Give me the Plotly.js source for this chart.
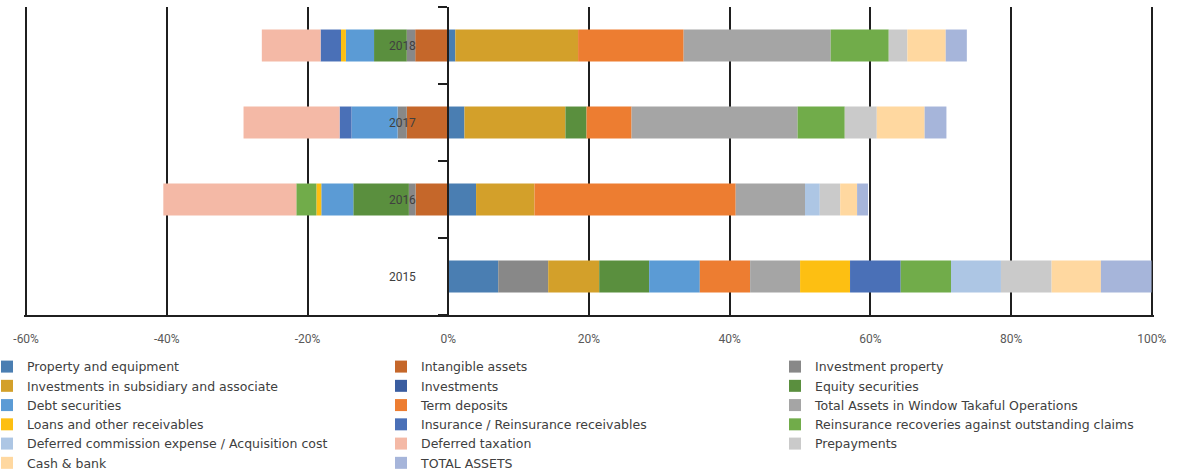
<!DOCTYPE html>
<html>
<head>
<meta charset="utf-8">
<script src="https://cdn.plot.ly/plotly-3.0.1.min.js"></script>
<style>html,body{margin:0;padding:0;background:#fff;}#chart{width:1179px;height:472px;}</style>
</head>
<body>
<div id="chart"></div>
<script>
// Categories (years)
var years = ['2015', '2016', '2017', '2018'];

// Series names (legend order)
var seriesNames = [
  'Property and equipment',
  'Intangible assets',
  'Investment property',
  'Investments in subsidiary and associate',
  'Investments',
  'Equity securities',
  'Debt securities',
  'Term deposits',
  'Total Assets in Window Takaful Operations',
  'Loans and other receivables',
  'Insurance / Reinsurance receivables',
  'Reinsurance recoveries against outstanding claims',
  'Deferred commission expense / Acquisition cost',
  'Deferred taxation',
  'Prepayments',
  'Cash & bank',
  'TOTAL ASSETS'
];

// Values in percent for [2015, 2016, 2017, 2018]
var propertyEquipment   = [7.1, 3.95, 2.3, 1.0];
var intangibleAssets    = [0, -4.65, -5.9, -4.7];
var investmentProperty  = [7.1, -0.95, -1.3, -1.2];
var investmentsSubsid   = [7.25, 8.3, 14.35, 17.45];
var investments         = [0, 0, 0, 0];
var equitySecurities    = [7.1, -7.9, 3.0, -4.65];
var debtSecurities      = [7.2, -4.55, -6.55, -4.0];
var termDeposits        = [7.15, 28.6, 6.4, 15.0];
var windowTakaful       = [7.1, 9.85, 23.6, 20.9];
var loansReceivables    = [7.1, -0.7, 0, -0.7];
var insuranceReceiv     = [7.2, 0, -1.7, -2.9];
var reinsRecoveries     = [7.15, -2.85, 6.7, 8.25];
var deferredCommission  = [7.1, 2.1, 0, 0];
var deferredTaxation    = [0, -18.9, -13.65, -8.35];
var prepayments         = [7.2, 2.9, 4.55, 2.65];
var cashBank            = [7.0, 2.4, 6.8, 5.45];
var totalAssets         = [7.2, 1.55, 3.1, 3.0];

// X tick labels
var xTickVals = [-60, -40, -20, 0, 20, 40, 60, 80, 100];
var xTickText = ['-60%', '-40%', '-20%', '0%', '20%', '40%', '60%', '80%', '100%'];

var seriesValues = [
  propertyEquipment, intangibleAssets, investmentProperty, investmentsSubsid,
  investments, equitySecurities, debtSecurities, termDeposits, windowTakaful,
  loansReceivables, insuranceReceiv, reinsRecoveries, deferredCommission,
  deferredTaxation, prepayments, cashBank, totalAssets
];

var colors = [
  '#4A7EB2', '#C5672A', '#888888', '#D3A02A', '#3A5DA0', '#5A8F3E',
  '#5B9BD5', '#ED7D31', '#A5A5A5', '#FDBF12', '#4A70B7', '#71AC4A',
  '#ADC6E4', '#F4B9A6', '#CACACA', '#FFD8A0', '#A6B5DA'
];

var FONT = 'Roboto, "Liberation Sans", sans-serif';
var LEGEND_FONT = '"DejaVu Sans", Roboto, sans-serif';

var traces = seriesNames.map(function (name, i) {
  return {
    type: 'bar',
    orientation: 'h',
    name: name,
    y: years,
    x: seriesValues[i],
    marker: { color: colors[i], line: { width: 0 } },
    hovertemplate: '%{y}: %{x}%<extra>' + name + '</extra>'
  };
});

// plot area: 24px .. 1154px inside a 1155px-wide paper area (margin r = 0)
var PAPER_W = 1155;
var PLOT_W = 1130;
var XMIN = -60.3, XMAX = 100.3;
var zeroPx = (0 - XMIN) / (XMAX - XMIN) * PLOT_W;

var layout = {
  width: 1179,
  height: 472,
  paper_bgcolor: '#ffffff',
  plot_bgcolor: '#ffffff',
  barmode: 'relative',
  bargap: 0.585,
  showlegend: true,
  margin: { l: 24, r: 0, t: 7, b: 157, autoexpand: false },
  font: { family: FONT, size: 12, color: '#404040' },
  xaxis: {
    domain: [0, PLOT_W / PAPER_W],
    range: [XMIN, XMAX],
    tickvals: xTickVals,
    ticktext: xTickText,
    showgrid: true,
    gridcolor: '#1f1f1f',
    gridwidth: 2,
    zeroline: false,
    showline: true,
    linecolor: '#1f1f1f',
    linewidth: 1.5,
    ticks: '',
    ticklabelstandoff: 12,
    tickfont: { family: FONT, size: 12, color: '#595959' },
    fixedrange: true
  },
  yaxis: {
    type: 'category',
    categoryarray: years,
    anchor: 'free',
    position: zeroPx / PAPER_W,
    side: 'left',
    showline: true,
    linecolor: '#1f1f1f',
    linewidth: 2,
    ticks: 'outside',
    ticklen: 9,
    tickwidth: 2,
    tickcolor: '#1f1f1f',
    tickson: 'boundaries',
    showgrid: false,
    zeroline: false,
    layer: 'above traces',
    ticklabelstandoff: 29,
    tickfont: { family: FONT, size: 12, color: '#404040' },
    fixedrange: true
  },
  legend: {
    orientation: 'h',
    x: -37 / PAPER_W,
    xanchor: 'left',
    y: -0.12,
    yanchor: 'top',
    entrywidth: 349,
    entrywidthmode: 'pixels',
    traceorder: 'normal',
    font: { family: LEGEND_FONT, size: 12.5, color: '#404040' },
    bgcolor: 'rgba(0,0,0,0)',
    borderwidth: 0
  }
};

Plotly.newPlot('chart', traces, layout, { displayModeBar: false, staticPlot: true });
</script>
</body>
</html>
